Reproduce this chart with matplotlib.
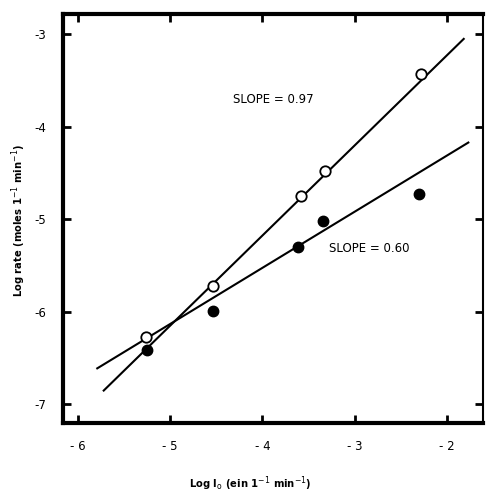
import numpy as np
import matplotlib
matplotlib.use("Agg")
import matplotlib.pyplot as plt

# Data
log_io_open = [-5.26, -4.54, -3.58, -3.32, -2.28]
log_rate_open = [-6.27, -5.72, -4.75, -4.48, -3.43]
log_io_filled = [-5.25, -4.54, -3.61, -3.34, -2.30]
log_rate_filled = [-6.41, -5.99, -5.30, -5.02, -4.73]

# fitted lines (end points as drawn)
fit_open_x = [-5.72, -1.82]
fit_open_y = [-6.85, -3.05]
fit_filled_x = [-5.79, -1.77]
fit_filled_y = [-6.61, -4.17]

xticks = [-6, -5, -4, -3, -2]
yticks = [-3, -4, -5, -6, -7]

plt.rcParams['font.family'] = ['DejaVu Sans']

fig = plt.figure(figsize=(4.87, 4.97), dpi=100)
ax = fig.add_axes([0.129, 0.149, 0.863, 0.823])

ax.plot(fit_open_x, fit_open_y, color='black', lw=1.5, zorder=2)
ax.plot(fit_filled_x, fit_filled_y, color='black', lw=1.5, zorder=2)
ax.plot(log_io_open, log_rate_open, 'o', ms=7.5, mfc='white', mec='black',
        mew=1.3, zorder=3)
ax.plot(log_io_filled, log_rate_filled, 'o', ms=7.5, mfc='black', mec='black',
        zorder=3)

ax.text(-4.32, -3.7, "SLOPE = 0.97", fontsize=8.5, va='center', ha='left')
ax.text(-3.28, -5.32, "SLOPE = 0.60", fontsize=8.5, va='center', ha='left')

ax.set_xlim(-6.163, -1.61)
ax.set_ylim(-7.2, -2.78)
ax.set_xticks(xticks)
ax.set_yticks(yticks)
ax.set_xticklabels([str(t).replace('-', '- ') for t in xticks], fontsize=8.5)
ax.set_yticklabels([str(t) for t in yticks], fontsize=8.5)
ax.tick_params(direction='in', length=6, width=2, top=True, right=True,
               pad=12)
ax.tick_params(axis='y', pad=12)

for side in ['left', 'bottom', 'top']:
    ax.spines[side].set_linewidth(3)
ax.spines['right'].set_linewidth(1.5)

lab = dict(fontsize=8, fontweight='bold', fontstretch='condensed')
ax.set_xlabel(r"Log I$_{\mathrm{o}}$ (ein 1$^{-1}$ min$^{-1}$)", **lab)
ax.set_ylabel(r"Log rate (moles 1$^{-1}$ min$^{-1}$)", **lab)
ax.xaxis.set_label_coords(0.445, -0.127)
ax.yaxis.set_label_coords(-0.083, 0.494)

fig.savefig("out.png", dpi=100)
